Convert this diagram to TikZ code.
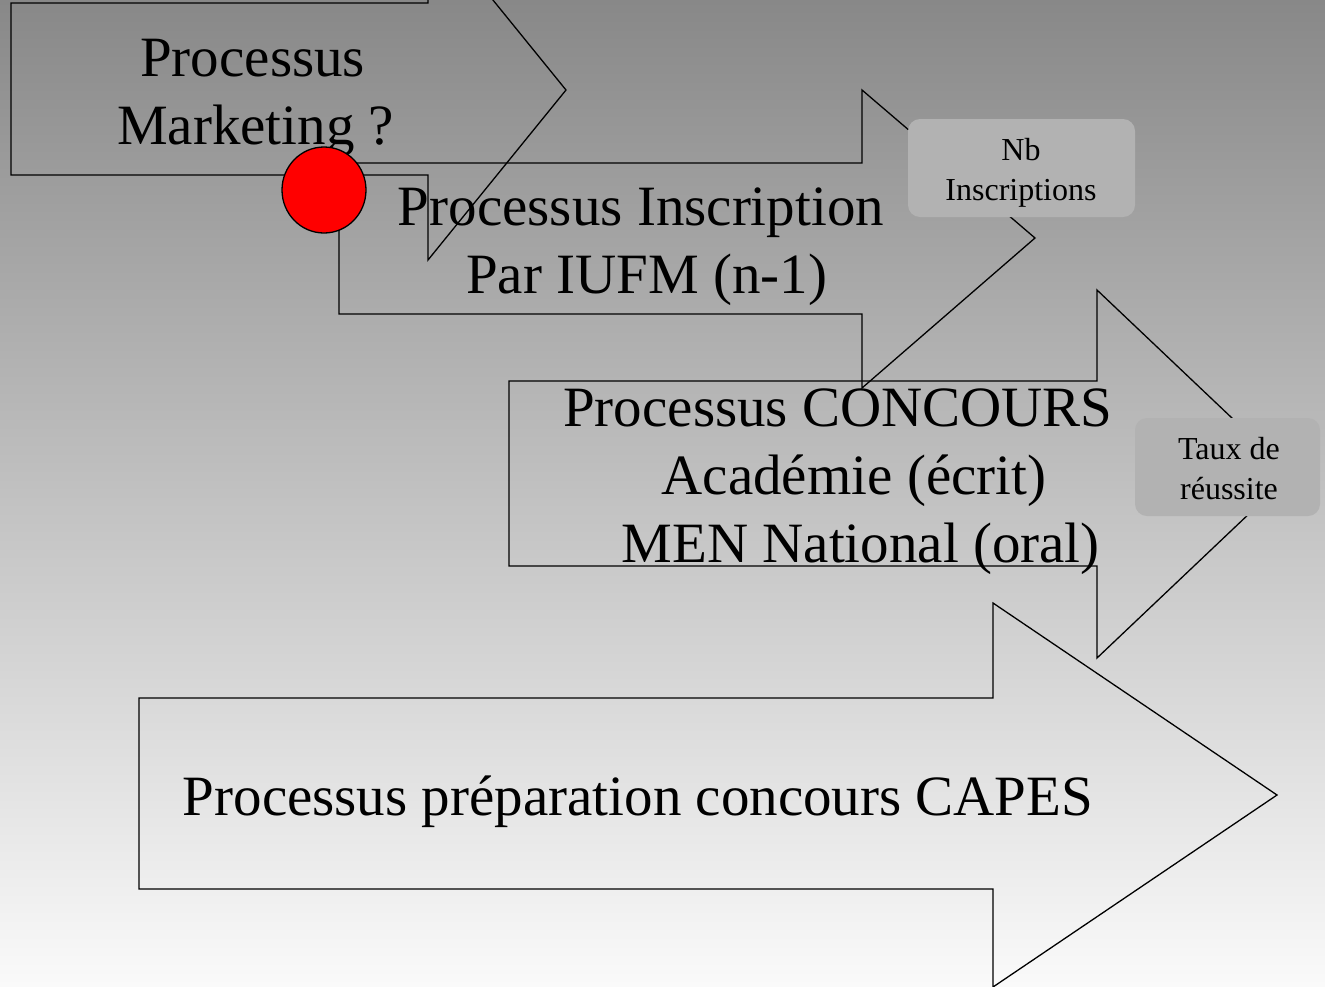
\documentclass[tikz,border=0pt]{standalone}
\usepackage{fontspec}
\setmainfont{Liberation Serif}
\begin{document}
\begin{tikzpicture}[x=1pt,y=-1pt,
  arrowshape/.style={draw=black,line width=1.3pt,line join=miter},
  bigtext/.style={font=\fontsize{57}{68}\selectfont,align=center,inner sep=0pt},
  calloutbox/.style={fill={rgb,255:red,178;green,178;blue,178},draw=none,rounded corners=12pt},
  calltext/.style={font=\fontsize{32}{40}\selectfont,align=center,inner sep=0pt}]
\useasboundingbox (0,0) rectangle (1325,986);
\clip (0,0) rectangle (1325,986);
\shade[top color={rgb,255:red,136;green,136;blue,136},bottom color={rgb,255:red,250;green,250;blue,250}] (0,0) rectangle (1325,986);
% Arrow 1 : Marketing
\draw[arrowshape] (11,3) -- (428,3) -- (428,-80) -- (566,90) -- (428,260) -- (428,175) -- (11,175) -- cycle;
% Arrow 2 : Inscription
\draw[arrowshape] (339,163) -- (862,163) -- (862,90) -- (1035,238) -- (862,388) -- (862,314) -- (339,314) -- cycle;
% Arrow 3 : Concours
\draw[arrowshape] (509,381) -- (1097,381) -- (1097,290) -- (1291,474) -- (1097,658) -- (1097,566) -- (509,566) -- cycle;
% Arrow 4 : Preparation
\draw[arrowshape] (139,698) -- (993,698) -- (993,603) -- (1277,795) -- (993,987) -- (993,889) -- (139,889) -- cycle;
% texts
\node[bigtext] (tmark) at (247,98) {\hspace{0.2em}Processus\\\hspace{0.3em}Marketing ?};
\node[bigtext] (tinsc) at (641,247) {Processus Inscription\\\hspace{0.2em}Par IUFM (n-1)};
\node[bigtext] (tconc) at (838,482) {Processus CONCOURS\\\hspace{0.56em}Académie (écrit)\\\hspace{0.8em}MEN National (oral)};
\node[bigtext] (tprep) at (638,802) {Processus préparation concours CAPES};
% red circle
\draw[fill=red,draw=black,line width=1.3pt] (324,190) ellipse [x radius=42,y radius=43];
\node[inner sep=0pt,minimum size=0pt] (dot) at (324,190) {};
% callouts
\fill[calloutbox] (908,119) rectangle (1135,217);
\node[calltext] (nb) at (1021,173) {Nb\\Inscriptions};
\fill[calloutbox] (1135,418) rectangle (1320,516);
\node[calltext] (taux) at (1229,469) {Taux de\\réussite};
\end{tikzpicture}
\end{document}
